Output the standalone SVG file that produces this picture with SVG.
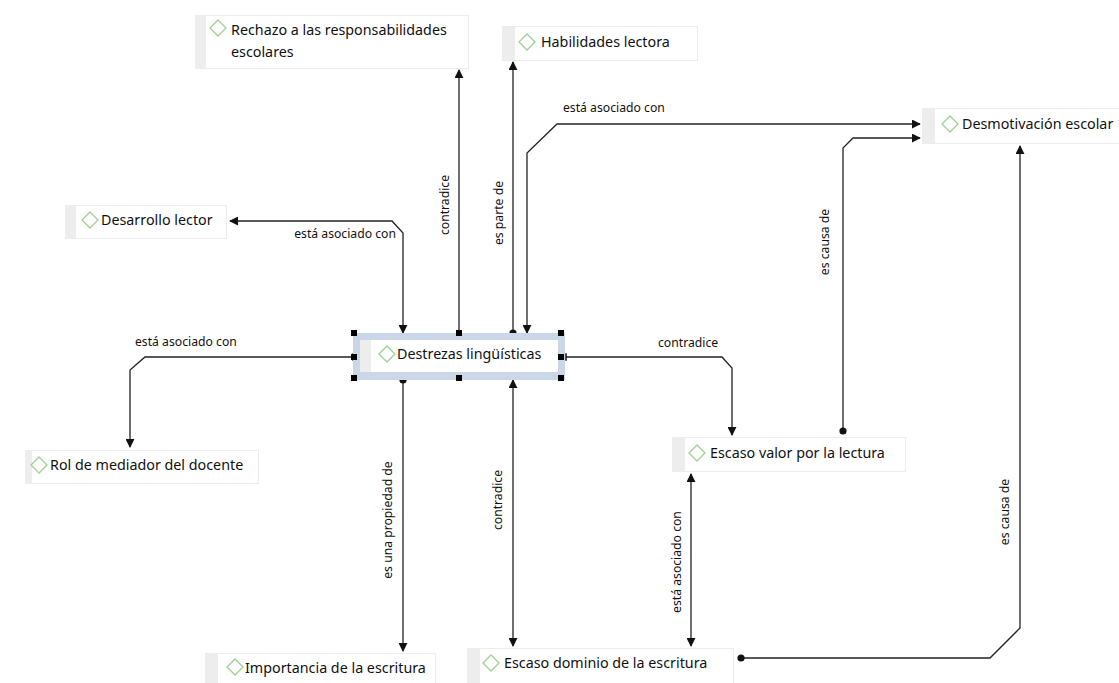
<svg xmlns="http://www.w3.org/2000/svg" width="1119" height="683" viewBox="0 0 1119 683">
<defs>
<style>
.box{fill:#ffffff;stroke:#ececec;stroke-width:1}
.band{fill:#ededed}
.dia{fill:none;stroke:#9fcf94;stroke-width:1.3}
.nt{font-family:"Noto Sans","Open Sans",sans-serif;font-size:14.3px;fill:#111}
.lt{font-family:"Noto Sans","Open Sans",sans-serif;font-size:12.2px;fill:#111}
.ln{fill:none;stroke:#222;stroke-width:1.3}
.h{fill:#000}
</style>
<marker id="arr" viewBox="0 0 10 10" refX="9" refY="5" markerWidth="9" markerHeight="9" markerUnits="userSpaceOnUse" orient="auto-start-reverse">
<path d="M0,0 L10,5 L0,10 z" fill="#111"/>
</marker>
<marker id="dot" viewBox="0 0 10 10" refX="5" refY="5" markerWidth="8" markerHeight="8" markerUnits="userSpaceOnUse">
<circle cx="5" cy="5" r="4.5" fill="#111"/>
</marker>
<marker id="bar" viewBox="0 0 4 10" refX="2" refY="5" markerWidth="3" markerHeight="9" markerUnits="userSpaceOnUse" orient="auto">
<rect x="1" y="0" width="2" height="10" fill="#111"/>
</marker>
</defs>
<rect width="1119" height="683" fill="#ffffff"/>

<g id="connectors">
<path class="ln" d="M459,333 V70" marker-end="url(#arr)"/>
<text class="lt" transform="translate(449,205) rotate(-90)" text-anchor="middle">contradice</text>
<path class="ln" d="M513,333 V62" marker-start="url(#dot)" marker-end="url(#arr)"/>
<text class="lt" transform="translate(503,213) rotate(-90)" text-anchor="middle">es parte de</text>
<path class="ln" d="M527,333 V153 L557,124 H920" marker-start="url(#arr)" marker-end="url(#arr)"/>
<text class="lt" x="563" y="112">está asociado con</text>
<path class="ln" d="M843,431 V148 L853,138 H920" marker-start="url(#dot)" marker-end="url(#arr)"/>
<text class="lt" transform="translate(829,242) rotate(-90)" text-anchor="middle">es causa de</text>
<path class="ln" d="M403,333 V233 L392,221 H230" marker-start="url(#arr)" marker-end="url(#arr)"/>
<text class="lt" x="396" y="238" text-anchor="end">está asociado con</text>
<path class="ln" d="M353,357 H145 L130,370 V447" marker-start="url(#bar)" marker-end="url(#arr)"/>
<text class="lt" x="135" y="346">está asociado con</text>
<path class="ln" d="M566,357 H722 L732,368 V435" marker-start="url(#bar)" marker-end="url(#arr)"/>
<text class="lt" x="658" y="347">contradice</text>
<path class="ln" d="M403,380 V651" marker-start="url(#dot)" marker-end="url(#arr)"/>
<text class="lt" transform="translate(392,520) rotate(-90)" text-anchor="middle">es una propiedad de</text>
<path class="ln" d="M513,646 V380" marker-start="url(#arr)" marker-end="url(#arr)"/>
<text class="lt" transform="translate(502,500) rotate(-90)" text-anchor="middle">contradice</text>
<path class="ln" d="M691,474 V646" marker-start="url(#arr)" marker-end="url(#arr)"/>
<text class="lt" transform="translate(681,562) rotate(-90)" text-anchor="middle">está asociado con</text>
<path class="ln" d="M741,658 H990 L1020,628 V146" marker-start="url(#dot)" marker-end="url(#arr)"/>
<text class="lt" transform="translate(1009,512) rotate(-90)" text-anchor="middle">es causa de</text>
</g>

<g id="n-rechazo">
<rect class="box" x="195.5" y="15.5" width="273" height="53"/>
<rect class="band" x="196" y="16" width="10" height="52"/>
<path class="dia" d="M218,20 L226,28 L218,36 L210,28 z"/>
<text class="nt" x="231" y="35">Rechazo a las responsabilidades</text>
<text class="nt" x="231" y="57">escolares</text>
</g>

<g id="n-habilidades">
<rect class="box" x="502.5" y="26.5" width="195" height="34"/>
<rect class="band" x="503" y="27" width="12" height="33"/>
<path class="dia" d="M527,34 L535,42 L527,50 L519,42 z"/>
<text class="nt" x="541" y="47">Habilidades lectora</text>
</g>

<g id="n-desmotivacion">
<rect class="box" x="922.5" y="108.5" width="197" height="35"/>
<rect class="band" x="923" y="109" width="12" height="34"/>
<path class="dia" d="M950,116 L958,124 L950,132 L942,124 z"/>
<text class="nt" x="962" y="129">Desmotivación escolar</text>
</g>

<g id="n-desarrollo">
<rect class="box" x="65.5" y="205.5" width="161" height="33"/>
<rect class="band" x="66" y="206" width="10" height="32"/>
<path class="dia" d="M90,212 L98,220 L90,228 L82,220 z"/>
<text class="nt" x="101" y="225">Desarrollo lector</text>
</g>

<g id="n-destrezas">
<rect x="353" y="333" width="212" height="47" fill="#c9d7e6"/>
<rect x="360" y="340" width="198" height="32" fill="#ffffff"/>
<rect class="band" x="360" y="340" width="11" height="32"/>
<path class="dia" d="M387,346 L395,354 L387,362 L379,354 z"/>
<text class="nt" x="397" y="359">Destrezas lingüísticas</text>
<rect class="h" x="351" y="330" width="6" height="6"/>
<rect class="h" x="456" y="330" width="6" height="6"/>
<rect class="h" x="558" y="330" width="6" height="6"/>
<rect class="h" x="351" y="354" width="6" height="6"/>
<rect class="h" x="558" y="354" width="6" height="6"/>
<rect class="h" x="351" y="375" width="6" height="6"/>
<rect class="h" x="456" y="375" width="6" height="6"/>
<rect class="h" x="558" y="375" width="6" height="6"/>
</g>

<g id="n-rol">
<rect class="box" x="25.5" y="450.5" width="233" height="33"/>
<rect class="band" x="26" y="451" width="6" height="32"/>
<path class="dia" d="M39,457 L47,465 L39,473 L31,465 z"/>
<text class="nt" x="50" y="470">Rol de mediador del docente</text>
</g>

<g id="n-escaso-valor">
<rect class="box" x="672.5" y="437.5" width="233" height="34"/>
<rect class="band" x="673" y="438" width="12" height="33"/>
<path class="dia" d="M697,445 L705,453 L697,461 L689,453 z"/>
<text class="nt" x="710" y="458">Escaso valor por la lectura</text>
</g>

<g id="n-importancia">
<rect class="box" x="205.5" y="653.5" width="230" height="30"/>
<rect class="band" x="206" y="654" width="12" height="29"/>
<path class="dia" d="M235,659 L243,667 L235,675 L227,667 z"/>
<text class="nt" x="245" y="673">Importancia de la escritura</text>
</g>

<g id="n-escaso-dominio">
<rect class="box" x="467.5" y="648.5" width="266" height="35"/>
<rect class="band" x="468" y="649" width="12" height="34"/>
<path class="dia" d="M491,655 L499,663 L491,671 L483,663 z"/>
<text class="nt" x="504" y="668">Escaso dominio de la escritura</text>
</g>
</svg>
